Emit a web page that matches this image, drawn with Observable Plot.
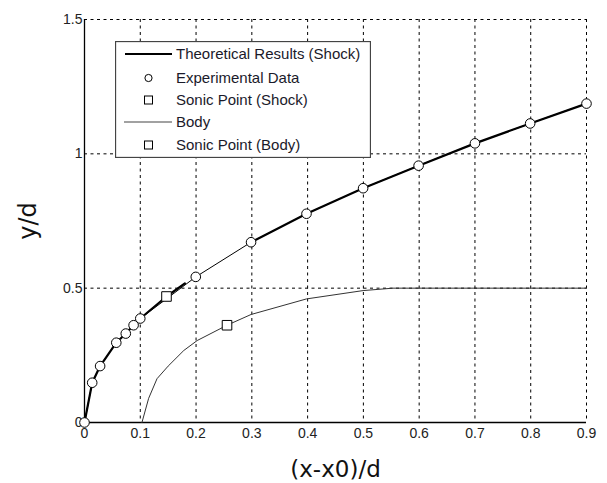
<!DOCTYPE html>
<html>
<head>
<meta charset="utf-8">
<script src="https://cdn.jsdelivr.net/npm/d3@7"></script>
<script src="https://cdn.jsdelivr.net/npm/@observablehq/plot@0.6"></script>
<style>
  html, body { margin: 0; padding: 0; background: white; }
  #wrap { position: relative; width: 607px; height: 483px; }
  #legend { position: absolute; left: 115px; top: 41px; }
</style>
</head>
<body>
<div id="wrap"></div>
<script>
// ---- data ----
const expX = [0, 0.0138, 0.028, 0.057, 0.074, 0.088, 0.1, 0.1995, 0.2986, 0.398, 0.4995, 0.599, 0.7, 0.799, 0.9];
const expY = [0, 0.148, 0.21, 0.297, 0.331, 0.362, 0.387, 0.542, 0.671, 0.777, 0.872, 0.956, 1.039, 1.113, 1.187];

const theoX1 = [0, 0.0138, 0.028, 0.057, 0.074, 0.088, 0.1, 0.147, 0.18];
const theoY1 = [0, 0.148, 0.21, 0.297, 0.331, 0.362, 0.387, 0.469, 0.518];
const theoX2 = [0.2986, 0.398, 0.4995, 0.599, 0.7, 0.799, 0.9];
const theoY2 = [0.671, 0.777, 0.872, 0.956, 1.039, 1.113, 1.187];

const bodyX = [0.103, 0.115, 0.13, 0.15, 0.178, 0.202, 0.2555, 0.2986, 0.398, 0.4995, 0.553, 0.9];
const bodyY = [0, 0.09, 0.163, 0.21, 0.268, 0.305, 0.362, 0.402, 0.46, 0.491, 0.5, 0.5];

const sonicShockX = [0.147], sonicShockY = [0.469];
const sonicBodyX = [0.2555], sonicBodyY = [0.362];

const xTicks = [0, 0.1, 0.2, 0.3, 0.4, 0.5, 0.6, 0.7, 0.8, 0.9];
const yTicks = [0, 0.5, 1, 1.5];
const xLabel = "(x-x0)/d";
const yLabel = "y/d";
const legendLabels = ["Theoretical Results (Shock)", "Experimental Data", "Sonic Point (Shock)", "Body", "Sonic Point (Body)"];

const zip = (xs, ys, extra = {}) => xs.map((x, i) => ({x, y: ys[i], ...extra}));
const exp = zip(expX, expY);
const theo = [...zip(theoX1, theoY1, {seg: 1}), ...zip(theoX2, theoY2, {seg: 2})];
const body = zip(bodyX, bodyY);
const sShock = zip(sonicShockX, sonicShockY);
const sBody = zip(sonicBodyX, sonicBodyY);

const fmt = d => d === 0 ? "0" : String(d);

const chart = Plot.plot({
  width: 607, height: 483,
  marginLeft: 84, marginRight: 21, marginTop: 19, marginBottom: 61,
  style: {fontFamily: "'Liberation Sans', Arial, sans-serif", fontSize: "14px", color: "#222", background: "white"},
  x: {domain: [0, 0.9]},
  y: {domain: [0, 1.5]},
  marks: [
    Plot.ruleX(xTicks.slice(1), {stroke: "black", strokeWidth: 1, strokeDasharray: "3,3.5"}),
    Plot.ruleY(yTicks.slice(1), {stroke: "black", strokeWidth: 1, strokeDasharray: "3,3.5"}),
    Plot.ruleX([0], {stroke: "black", strokeWidth: 1.3}),
    Plot.ruleY([0], {stroke: "black", strokeWidth: 1.3}),
    Plot.axisX({ticks: xTicks, tickFormat: fmt, tickSize: 0, tickPadding: 6, fontSize: 14, label: null}),
    Plot.axisY({ticks: yTicks, tickFormat: fmt, tickSize: 0, tickPadding: 2, fontSize: 14, label: null}),
    Plot.text([xLabel], {frameAnchor: "bottom", textAnchor: "middle", lineAnchor: "middle", dy: 47, fontSize: 23, fontFamily: "'DejaVu Sans', sans-serif", fill: "#111"}),
    Plot.text([yLabel], {frameAnchor: "left", textAnchor: "middle", lineAnchor: "middle", dx: -56, rotate: -90, fontSize: 24, fontFamily: "'DejaVu Sans', sans-serif", fill: "#111"}),
    Plot.line(body, {x: "x", y: "y", stroke: "#333", strokeWidth: 1}),
    Plot.line(exp, {x: "x", y: "y", stroke: "black", strokeWidth: 1}),
    Plot.line(theo, {x: "x", y: "y", z: "seg", stroke: "black", strokeWidth: 2.2}),
    Plot.dot(exp, {x: "x", y: "y", r: 4.8, fill: "white", stroke: "black", strokeWidth: 1}),
    Plot.dot(sShock, {x: "x", y: "y", symbol: "square", r: 5.4, fill: "white", stroke: "black", strokeWidth: 1}),
    Plot.dot(sBody, {x: "x", y: "y", symbol: "square", r: 5.4, fill: "white", stroke: "black", strokeWidth: 1})
  ]
});
const wrap = document.getElementById("wrap");
wrap.appendChild(chart);

// ---- legend overlay ----
const lw = 256, lh = 117;
const leg = d3.select(wrap).append("svg").attr("id", "legend")
  .attr("width", lw).attr("height", lh)
  .style("font-family", "'Liberation Sans', Arial, sans-serif");
leg.append("rect").attr("x", 0.5).attr("y", 0.5).attr("width", lw - 1).attr("height", lh - 1)
  .attr("fill", "white").attr("stroke", "#444").attr("stroke-width", 1.3);
const rowsY = [13, 37, 59, 81, 104];
const kinds = ["thick", "circle", "square", "thin", "square"];
legendLabels.forEach((t, i) => {
  const y = rowsY[i];
  const k = kinds[i];
  if (k === "thick") leg.append("line").attr("x1", 10).attr("x2", 57).attr("y1", y).attr("y2", y).attr("stroke", "black").attr("stroke-width", 2.2);
  if (k === "thin") leg.append("line").attr("x1", 9).attr("x2", 57).attr("y1", y).attr("y2", y).attr("stroke", "#444").attr("stroke-width", 1.2);
  if (k === "circle") leg.append("circle").attr("cx", 33.5).attr("cy", y).attr("r", 3.6).attr("fill", "white").attr("stroke", "black");
  if (k === "square") leg.append("rect").attr("x", 29.5).attr("y", y - 4).attr("width", 8).attr("height", 8).attr("fill", "white").attr("stroke", "black");
  leg.append("text").attr("x", 61).attr("y", y).attr("dy", "0.36em").attr("font-size", 15).attr("fill", "#1a1a2a").text(t);
});
</script>
</body>
</html>
